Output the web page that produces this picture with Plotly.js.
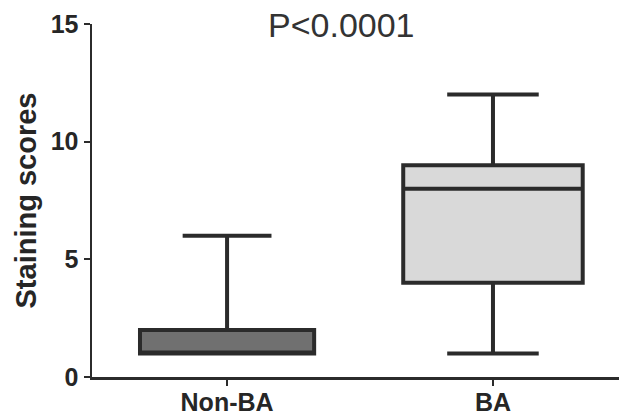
<!DOCTYPE html>
<html>
<head>
<meta charset="utf-8">
<script src="https://cdn.plot.ly/plotly-3.0.1.min.js"></script>
<style>
html,body{margin:0;padding:0;background:#fff;}
#chart{width:619px;height:418px;}
</style>
</head>
<body>
<div id="chart"></div>
<script>
// Data
const categories = ['Non-BA', 'BA'];
const q1 = [1, 4];
const median = [1, 8];
const q3 = [2, 9];
const lowerfence = [1, 1];
const upperfence = [6, 12];
const fills = ['#707070', '#d9d9d9'];
const boxWidths = [0.655, 0.675];
const yTickVals = [0, 5, 10, 15];
const pLabel = 'P<0.0001';

const traces = categories.map((c, i) => ({
  type: 'box',
  x: [c],
  q1: [q1[i]],
  median: [median[i]],
  q3: [q3[i]],
  lowerfence: [lowerfence[i]],
  upperfence: [upperfence[i]],
  fillcolor: fills[i],
  line: {color: '#2b2b2b', width: 4},
  width: boxWidths[i],
  whiskerwidth: 0.51,
  boxpoints: false,
  hoverinfo: 'skip',
  showlegend: false
}));

const bold = {family: 'Liberation Sans, Arial, sans-serif', color: '#262626', weight: 'bold'};

const layout = {
  width: 619,
  height: 418,
  margin: {l: 92, r: 0, t: 24, b: 41},
  paper_bgcolor: '#ffffff',
  plot_bgcolor: '#ffffff',
  boxmode: 'overlay',
  showlegend: false,
  font: {family: 'Liberation Sans, Arial, sans-serif', color: '#2e2e2e'},
  xaxis: {
    type: 'category',
    categoryorder: 'array',
    categoryarray: categories,
    range: [-0.508, 1.474],
    showgrid: false,
    zeroline: false,
    showline: true,
    linecolor: '#2b2b2b',
    linewidth: 2.5,
    ticks: 'outside',
    ticklen: 6,
    tickwidth: 2,
    tickcolor: '#2b2b2b',
    ticklabelstandoff: -5,
    tickfont: Object.assign({size: 25}, bold),
    fixedrange: true
  },
  yaxis: {
    range: [0, 15],
    tickvals: yTickVals,
    ticktext: yTickVals.map(String),
    showgrid: false,
    zeroline: false,
    showline: true,
    linecolor: '#2b2b2b',
    linewidth: 2.5,
    ticks: 'outside',
    ticklen: 6,
    tickwidth: 2,
    tickcolor: '#2b2b2b',
    tickfont: Object.assign({size: 25}, bold),
    title: {
      text: 'Staining scores',
      font: Object.assign({size: 29}, bold),
      standoff: 6
    },
    fixedrange: true
  },
  annotations: [{
    text: pLabel,
    xref: 'paper', yref: 'paper',
    x: 0.4734, y: 0.997,
    xanchor: 'center', yanchor: 'middle',
    showarrow: false,
    font: {family: 'Liberation Sans, Arial, sans-serif', size: 34, color: '#333333'}
  }]
};

Plotly.newPlot('chart', traces, layout, {displayModeBar: false, staticPlot: true});
</script>
</body>
</html>
